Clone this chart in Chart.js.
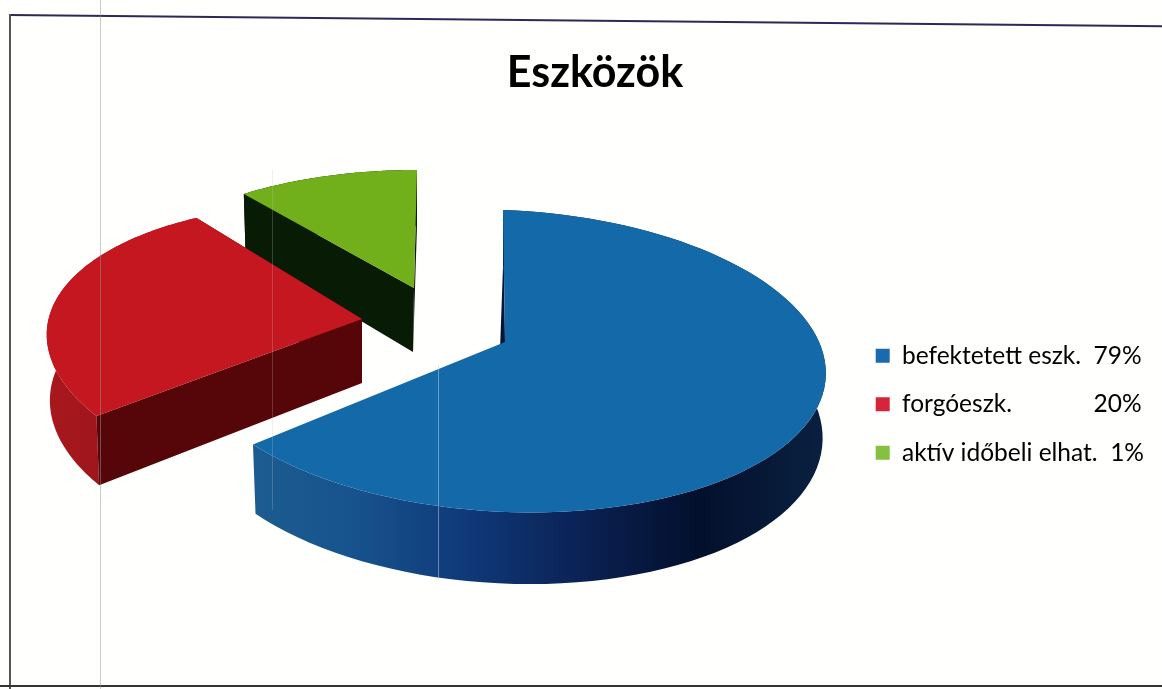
<!DOCTYPE html>
<html>
<head>
<meta charset="utf-8">
<title>Eszközök</title>
<script src="https://cdn.jsdelivr.net/npm/chart.js@4"></script>
<style>
    html, body { margin: 0; padding: 0; background: #fffffd; }
    #wrap { position: relative; width: 1162px; height: 689px; overflow: hidden; }
    canvas { display: block; }
    .scan { position: absolute; pointer-events: none; }
</style>
</head>
<body>
<div id="wrap">
    <canvas id="chart" width="1162" height="689"></canvas>
    <!-- edges and roller marks of the scanned sheet -->
    <div class="scan" style="left:9px;top:14px;width:1160px;height:2px;background:#2a2a55;transform-origin:0 0;transform:rotate(0.56deg)"></div>
    <div class="scan" style="left:9px;top:14px;width:2px;height:675px;background:#555"></div>
    <div class="scan" style="left:0;top:685px;width:1162px;height:2px;background:#333"></div>
    <div class="scan" style="left:100px;top:0;width:1px;height:689px;background:rgba(150,150,150,.5)"></div>
    <div class="scan" style="left:272px;top:170px;width:1px;height:340px;background:rgba(190,190,190,.25)"></div>
    <div class="scan" style="left:438px;top:365px;width:1px;height:215px;background:rgba(190,210,230,.5)"></div>
</div>
<script>
const title = 'Eszközök';
const categories = ['befektetett eszk.  79%', 'forgóeszk.             20%', 'aktív időbeli elhat.  1%'];
// slice sizes as they are drawn in the picture (they do not follow the legend percents)
const sliceValues = [63, 26, 11];
const sliceColors = ['#1469a9', '#c4171f', '#71b01a'];
const legendColors = ['#1a6ab0', '#d6243a', '#86c040'];

// perspective of each slice: apex on the page, radii, shear and tilt
// faces: start and end cut of the slice, null when it cannot be seen
const sliceShapes = [
    {x: 505, y: 342, rx: 318, ry: 148.6, sx: 2.25, sy: 11, p: 0.126, apexDx: -7,
     wall: [[0, '#1c5c90'], [0.18, '#17528c'], [0.35, '#103c7c'], [0.6, '#0a1f50'], [0.78, '#03102c'], [1, '#0a2040']],
     faces: ['#03143a', null]},
    {x: 362, y: 319, rx: 307, ry: 138.9, sx: -3.5, sy: 17.2, p: 0.2166, apexDx: 0,
     wall: [[0, '#a8181e'], [1, '#8a1016']],
     faces: ['#560608', '#560608']},
    {x: 414, y: 288, rx: 302, ry: 135.7, sx: -3.45, sy: 0.6, p: 0.15, apexDx: -1,
     wall: [[0, '#081b04'], [1, '#081b04']],
     faces: ['#081b04', '#081b04']}
];
const depth = 64;

function project(s, a, low) {
    const c = Math.cos(a), n = Math.sin(a), w = 1 - s.p * n;
    let x = (s.rx * c + s.sx * n) / w;
    let y = (s.sy * c + s.ry * n) / w;
    if (low) {
        x *= 0.99;
        y += depth * (1 + 0.12 * n);
    }
    return [s.x + x, s.y + y];
}

function fillPoly(ctx, pts, fill) {
    ctx.beginPath();
    pts.forEach((p, i) => i ? ctx.lineTo(p[0], p[1]) : ctx.moveTo(p[0], p[1]));
    ctx.closePath();
    ctx.fillStyle = fill;
    ctx.fill();
}

function drawSlice(ctx, arc, s) {
    const {startAngle, endAngle} = arc.getProps(['startAngle', 'endAngle'], true);
    const steps = 90;
    const top = [], low = [];
    for (let i = 0; i <= steps; i++) {
        const a = startAngle + (endAngle - startAngle) * i / steps;
        top.push(project(s, a, false));
        low.push(project(s, a, true));
    }
    const apex = [s.x, s.y];
    const apexLow = [s.x + s.apexDx, s.y + depth];

    // outer wall
    const xs = low.map(p => p[0]);
    const grad = ctx.createLinearGradient(Math.min(...xs), 0, Math.max(...xs), 0);
    s.wall.forEach(st => grad.addColorStop(st[0], st[1]));
    fillPoly(ctx, top.concat(low.slice().reverse()), grad);

    // the two cut faces
    if (s.faces[0]) fillPoly(ctx, [apex, top[0], low[0], apexLow], s.faces[0]);
    if (s.faces[1]) fillPoly(ctx, [apex, top[steps], low[steps], apexLow], s.faces[1]);

    // top of the slice
    fillPoly(ctx, [apex].concat(top), arc.options.backgroundColor);
}

const pie3d = {
    id: 'pie3d',
    beforeDatasetDraw(chart, args) {
        const ctx = chart.ctx;
        const arcs = chart.getDatasetMeta(args.index).data;
        ctx.save();
        for (let i = arcs.length - 1; i >= 0; i--) {
            drawSlice(ctx, arcs[i], sliceShapes[i]);
        }
        ctx.restore();
        return false;
    }
};

new Chart(document.getElementById('chart'), {
    type: 'pie',
    data: {
        labels: categories,
        datasets: [{
            data: sliceValues,
            backgroundColor: sliceColors,
            borderWidth: 0
        }]
    },
    options: {
        responsive: false,
        animation: false,
        layout: {padding: {left: 36, right: 8, top: 0, bottom: 200}},
        plugins: {
            tooltip: {enabled: false},
            title: {
                display: true,
                text: title,
                color: '#000',
                font: {family: 'Lato', size: 43, weight: 'bold'},
                padding: {top: 47, bottom: 72}
            },
            legend: {
                position: 'right',
                align: 'end',
                labels: {
                    color: '#000',
                    font: {family: 'Lato', size: 24.5},
                    boxWidth: 14,
                    boxHeight: 14,
                    padding: 24,
                    generateLabels(chart) {
                        return chart.data.labels.map((text, i) => ({
                            text: text,
                            fillStyle: legendColors[i],
                            strokeStyle: legendColors[i],
                            lineWidth: 0,
                            hidden: false,
                            index: i
                        }));
                    }
                }
            }
        }
    },
    plugins: [pie3d]
});
</script>
</body>
</html>
